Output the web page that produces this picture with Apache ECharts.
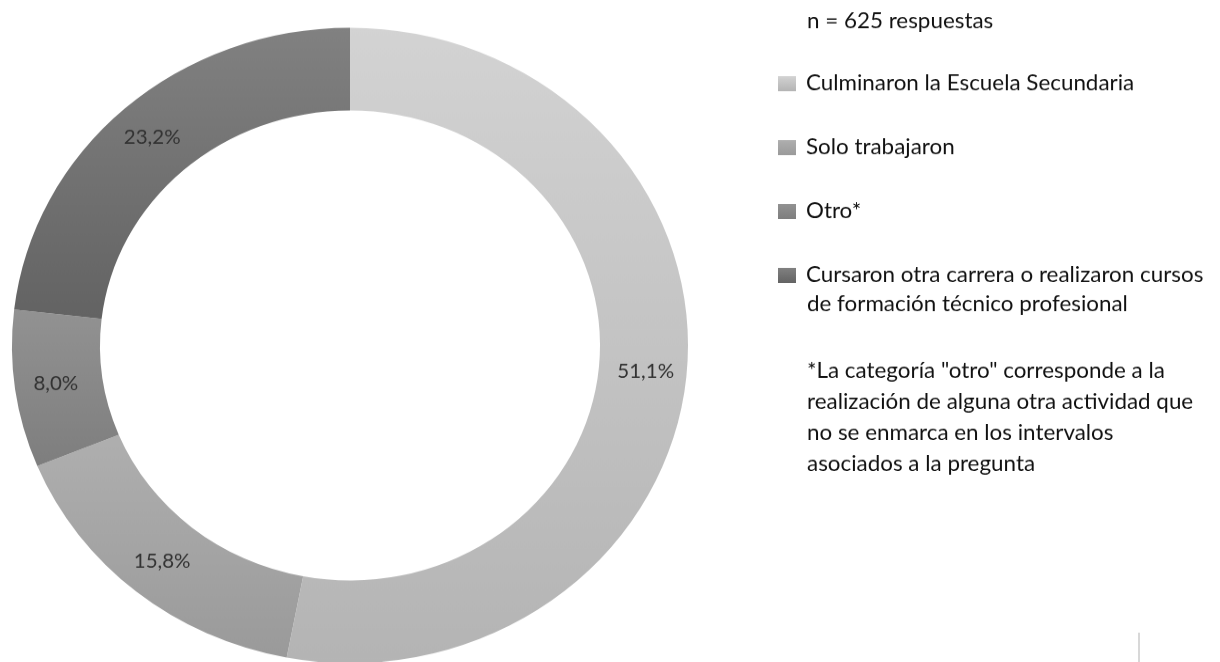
<!DOCTYPE html>
<html>
<head>
<meta charset="utf-8">
<script src="https://cdn.jsdelivr.net/npm/echarts@6/dist/echarts.min.js"></script>
<style>
  html, body { margin: 0; padding: 0; background: #fff; overflow: hidden; }
  /* the original picture is slightly squashed vertically */
  #chart { width: 1220px; height: 704px; transform: scaleY(0.94); transform-origin: 0 0; }
</style>
</head>
<body>
<div id="chart"></div>
<script>
// categorias, in clockwise order from 12 o'clock
var categorias = [
    'Culminaron la Escuela Secundaria',
    'Solo trabajaron',
    'Otro*',
    'Cursaron otra carrera o realizaron cursos\nde formación técnico profesional'
];
// slice sizes as drawn in the picture (the first slice is drawn larger than its label)
var valores = [53.0, 15.8, 8.0, 23.2];
// label texts as printed on the slices
var etiquetas = ['51,1%', '15,8%', '8,0%', '23,2%'];
var coloresArriba = ['#d3d3d3', '#afafaf', '#929292', '#818181'];
var coloresAbajo = ['#b4b4b4', '#9a9a9a', '#7e7e7e', '#636363'];
var totalRespuestas = 'n = 625 respuestas';
var nota = '*La categoría "otro" corresponde a la\nrealización de alguna otra actividad que\nno se enmarca en los intervalos\nasociados a la pregunta';

var fuente = 'Lato';
var tamTexto = 22.4;
var myChart = echarts.init(document.getElementById('chart'));

var datos = categorias.map(function (nombre, i) {
    return {
        name: nombre,
        value: valores[i],
        itemStyle: {
            color: new echarts.graphic.LinearGradient(0, 0, 0, 1, [
                { offset: 0, color: coloresArriba[i] },
                { offset: 1, color: coloresAbajo[i] }
            ])
        }
    };
});

var option = {
    animation: false,
    legend: {
        orient: 'vertical',
        left: 778,
        top: 77,
        padding: 0,
        itemWidth: 18,
        itemHeight: 16,
        itemGap: 44,
        selectedMode: false,
        icon: 'rect',
        data: categorias,
        formatter: function (name) { return name.split('\n')[0]; },
        textStyle: {
            fontFamily: fuente,
            fontSize: tamTexto,
            lineHeight: 24,
            color: '#111',
            padding: [0, 0, 0, 5]
        }
    },
    graphic: [
        {
            type: 'text', left: 807, top: 12,
            style: { text: totalRespuestas, font: tamTexto + 'px ' + fuente, fill: '#111' }
        },
        {
            type: 'text', left: 807, top: 313,
            style: { text: categorias[3].split('\n')[1], font: tamTexto + 'px ' + fuente, fill: '#111' }
        },
        {
            type: 'text', left: 807, top: 378,
            style: { text: nota, font: tamTexto + 'px ' + fuente, fill: '#111', lineHeight: 33 }
        },
        {
            type: 'line',
            shape: { x1: 1139, y1: 673, x2: 1139, y2: 704 },
            style: { stroke: '#d8d8d8', lineWidth: 2 }
        }
    ],
    series: [
        {
            type: 'pie',
            center: [350, 367.5],
            radius: [250, 338],
            startAngle: 90,
            clockwise: true,
            silent: true,
            itemStyle: { borderWidth: 0 },
            label: {
                show: true,
                position: 'inside',
                rotate: 0,
                fontFamily: fuente,
                fontSize: 20.5,
                color: '#333',
                formatter: function (p) { return etiquetas[p.dataIndex]; }
            },
            labelLine: { show: false },
            emphasis: { disabled: true },
            data: datos
        }
    ]
};
myChart.setOption(option);
</script>
</body>
</html>
